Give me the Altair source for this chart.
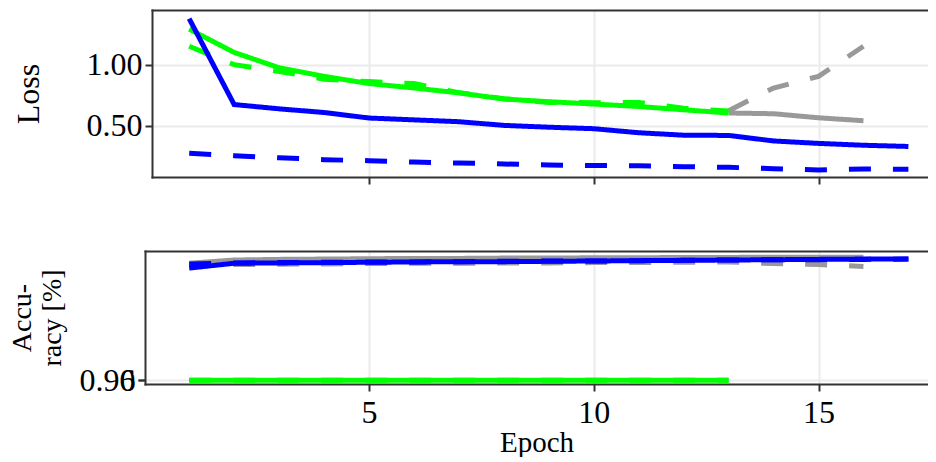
import altair as alt
import pandas as pd

# ---------------- data ----------------
epochs_blue = [1, 2, 3, 4, 5, 6, 7, 8, 9, 10, 11, 12, 13, 14, 15, 16, 17]
epochs_green = [1, 2, 3, 4, 5, 6, 7, 8, 9, 10, 11, 12, 13]
epochs_grey = [1, 2, 3, 4, 5, 6, 7, 8, 9, 10, 11, 12, 13, 14, 15, 16]
epochs_grey_loss = [13, 14, 15, 16]

loss_blue_solid = [1.375, 0.675, 0.64, 0.61, 0.565, 0.55, 0.535, 0.505, 0.49, 0.478,
                   0.445, 0.425, 0.423, 0.378, 0.358, 0.343, 0.333]
loss_blue_dashed = [0.277, 0.258, 0.241, 0.225, 0.217, 0.206, 0.198, 0.19, 0.182, 0.178,
                    0.175, 0.168, 0.163, 0.152, 0.141, 0.149, 0.147]
loss_green_solid = [1.29, 1.10, 0.975, 0.905, 0.846, 0.81, 0.77, 0.72, 0.698, 0.679,
                    0.659, 0.632, 0.606]
loss_green_dashed = [1.15, 1.0, 0.945, 0.882, 0.862, 0.846, 0.772, 0.722, 0.692, 0.69,
                     0.692, 0.645, 0.622]
loss_grey_solid = [0.606, 0.6, 0.567, 0.543]
loss_grey_dashed = [0.625, 0.81, 0.905, 1.15]

acc_blue_solid = [0.9947, 0.9962, 0.9963, 0.9964, 0.9965, 0.9966, 0.9967, 0.9967, 0.9968,
                  0.9969, 0.9970, 0.9971, 0.9972, 0.9973, 0.9974, 0.9975, 0.9975]
acc_blue_dashed = [0.9960, 0.9963, 0.9964, 0.9965, 0.9966, 0.9966, 0.9967, 0.9968, 0.9969,
                   0.9969, 0.9970, 0.9971, 0.9972, 0.9973, 0.9973, 0.9974, 0.9975]
acc_grey_solid = [0.9962, 0.9972, 0.9974, 0.9975, 0.9976, 0.9977, 0.9977, 0.9978, 0.9978,
                  0.9979, 0.9979, 0.9980, 0.9980, 0.9981, 0.9981, 0.9981]
acc_grey_dashed = [0.9957, 0.9958, 0.9959, 0.9960, 0.9961, 0.9962, 0.9962, 0.9963, 0.9963,
                   0.9964, 0.9964, 0.9965, 0.9966, 0.9961, 0.9958, 0.9952]
acc_green_solid = [0.0, 0.0, 0.0, 0.0, 0.0, 0.0, 0.0, 0.0, 0.0, 0.0, 0.0, 0.0, 0.0]
acc_green_dashed = [0.0, 0.0, 0.0, 0.0, 0.0, 0.0, 0.0, 0.0, 0.0, 0.0, 0.0, 0.0, 0.0]

models = ["grey", "green", "blue"]
model_colors = ["#999999", "#00ff00", "#0000ff"]
styles = ["solid", "dashed"]
style_dashes = [[1, 0], [22, 22]]


def frame(epochs, values, model, style):
    return pd.DataFrame({"epoch": epochs, "value": values, "model": model, "style": style})


loss_df = pd.concat([
    frame(epochs_grey_loss, loss_grey_solid, "grey", "solid"),
    frame(epochs_grey_loss, loss_grey_dashed, "grey", "dashed"),
    frame(epochs_green, loss_green_solid, "green", "solid"),
    frame(epochs_green, loss_green_dashed, "green", "dashed"),
    frame(epochs_blue, loss_blue_solid, "blue", "solid"),
    frame(epochs_blue, loss_blue_dashed, "blue", "dashed"),
], ignore_index=True)

acc_df = pd.concat([
    frame(epochs_grey, acc_grey_solid, "grey", "solid"),
    frame(epochs_grey, acc_grey_dashed, "grey", "dashed"),
    frame(epochs_green, acc_green_solid, "green", "solid"),
    frame(epochs_green, acc_green_dashed, "green", "dashed"),
    frame(epochs_blue, acc_blue_solid, "blue", "solid"),
    frame(epochs_blue, acc_blue_dashed, "blue", "dashed"),
], ignore_index=True)

# ---------------- styling ----------------
FONT = "Liberation Serif"
W = 783
H_TOP = 167
H_BOT = 133
LW = 5

color = alt.Color("model:N", scale=alt.Scale(domain=models, range=model_colors), legend=None)
dash = alt.StrokeDash("style:N", scale=alt.Scale(domain=styles, range=style_dashes), legend=None)
detail = alt.Detail("style:N")

x_top_scale = alt.Scale(domain=[0.1724, 17.436], range=[7, W], nice=False, zero=False)
x_bot_scale = alt.Scale(domain=[0.0167, 17.436], nice=False, zero=False)

border_axis = alt.Axis(orient="top", labels=False, ticks=False, grid=False, title=None, domain=True)
x_axis_top_panel = alt.Axis(orient="bottom", values=[5, 10, 15], labels=False, ticks=True,
                            tickSize=7, grid=True, title=None, domain=True)
x_axis_bot_panel = alt.Axis(orient="bottom", values=[5, 10, 15], labels=True, ticks=True,
                            tickSize=7, grid=True, title="Epoch", domain=True,
                            labelPadding=6, titlePadding=0, titleFontSize=29)

y_loss_scale = alt.Scale(domain=[0.084, 1.446], nice=False, zero=False)
y_loss_axis = alt.Axis(orient="left", values=[0.5, 1.0], format=".2f", title="Loss",
                       offset=-7, tickSize=7, grid=True, labelPadding=3, titlePadding=41)

y_acc_scale = alt.Scale(domain=[0.95876, 1.0], nice=False, zero=False)
y_acc_axis = alt.Axis(orient="left", values=[0.96], format=".2f", title=["Accu-", "racy [%]"],
                      tickSize=7, grid=True, labelPadding=3, titlePadding=13,
                      titleFontSize=28, titleLineHeight=30)
y_zero_scale = alt.Scale(domain=[-0.03, 1.0], nice=False, zero=False)
y_zero_axis = alt.Axis(orient="left", values=[0], format="d", title=None, tickSize=7,
                       grid=False, domain=False, labelPadding=3)


def line_layer(data, model, xscale, xaxis, yscale, yaxis):
    return alt.Chart(data).transform_filter(
        alt.datum.model == model
    ).mark_line(strokeWidth=LW, strokeCap="butt").encode(
        x=alt.X("epoch:Q", scale=xscale, axis=xaxis),
        y=alt.Y("value:Q", scale=yscale, axis=yaxis),
        color=color,
        strokeDash=dash,
        detail=detail,
    )


top = alt.layer(
    line_layer(loss_df, "grey", x_top_scale, border_axis, y_loss_scale, y_loss_axis),
    line_layer(loss_df, "green", x_top_scale, x_axis_top_panel, y_loss_scale, y_loss_axis),
    line_layer(loss_df, "blue", x_top_scale, None, y_loss_scale, y_loss_axis),
).resolve_axis(x="independent").properties(width=W, height=H_TOP)

bottom = alt.layer(
    line_layer(acc_df, "grey", x_bot_scale, border_axis, y_acc_scale, y_acc_axis),
    line_layer(acc_df, "green", x_bot_scale, None, y_zero_scale, y_zero_axis),
    line_layer(acc_df, "blue", x_bot_scale, x_axis_bot_panel, y_acc_scale, None),
).resolve_scale(y="independent").resolve_axis(x="independent").properties(width=W, height=H_BOT)

chart = alt.vconcat(top, bottom, spacing=62).resolve_scale(
    x="independent"
).properties(
    padding={"left": 0, "top": 0, "right": 0, "bottom": 0}
).configure_view(
    stroke=None
).configure_axis(
    labelFont=FONT, titleFont=FONT, labelFontSize=32, titleFontSize=32,
    titleFontWeight="normal", labelColor="black", titleColor="black",
    domainColor="#333333", domainWidth=2, tickColor="#333333", tickWidth=2,
    gridColor="#ebebeb", gridWidth=2, domainCap="square",
)

chart.save("out.html", embed_options={"renderer": "svg", "actions": False})
